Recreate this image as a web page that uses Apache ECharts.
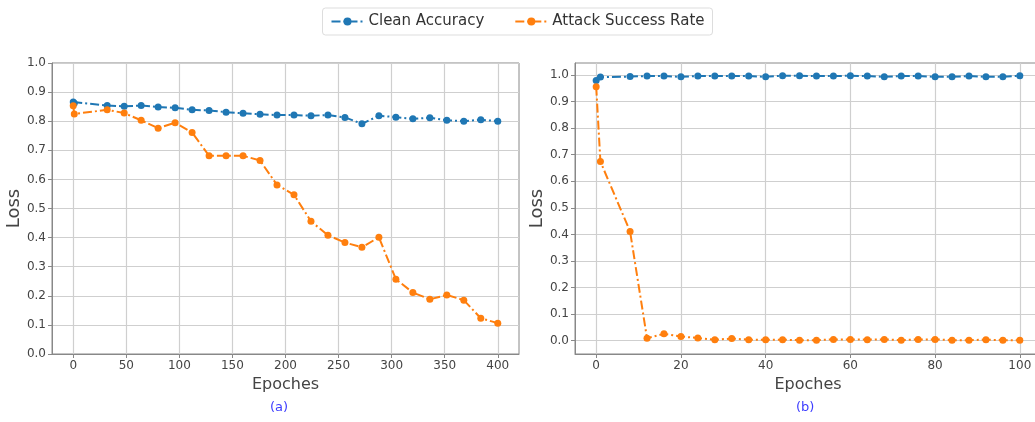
<!DOCTYPE html>
<html>
<head>
<meta charset="utf-8">
<script src="https://cdn.jsdelivr.net/npm/echarts@6/dist/echarts.min.js"></script>
<style>
html,body{margin:0;padding:0;background:#fff;}
#chart{width:1035px;height:422px;}
</style>
</head>
<body>
<div id="chart"></div>
<script>
// ---- data ----
const seriesNames = ['Clean Accuracy', 'Attack Success Rate'];

const epochsA = [0, 1, 32, 48, 64, 80, 96, 112, 128, 144, 160, 176, 192, 208, 224, 240, 256, 272, 288, 304, 320, 336, 352, 368, 384, 400];
const cleanA = [0.866, 0.862, 0.854, 0.851, 0.854, 0.849, 0.846, 0.839, 0.837, 0.831, 0.827, 0.824, 0.821, 0.821, 0.819, 0.821, 0.813, 0.791, 0.819, 0.814, 0.808, 0.812, 0.803, 0.800, 0.805, 0.800];
const attackA = [0.853, 0.825, 0.839, 0.828, 0.803, 0.776, 0.795, 0.761, 0.681, 0.681, 0.681, 0.665, 0.581, 0.547, 0.456, 0.408, 0.383, 0.367, 0.401, 0.257, 0.211, 0.188, 0.203, 0.185, 0.123, 0.106];

const epochsB = [0, 1, 8, 12, 16, 20, 24, 28, 32, 36, 40, 44, 48, 52, 56, 60, 64, 68, 72, 76, 80, 84, 88, 92, 96, 100];
const cleanB = [0.979, 0.992, 0.994, 0.996, 0.996, 0.993, 0.996, 0.996, 0.996, 0.996, 0.993, 0.997, 0.997, 0.996, 0.996, 0.997, 0.996, 0.993, 0.996, 0.996, 0.993, 0.993, 0.996, 0.993, 0.993, 0.997];
const attackB = [0.956, 0.674, 0.411, 0.009, 0.026, 0.016, 0.010, 0.004, 0.008, 0.004, 0.004, 0.004, 0.002, 0.002, 0.005, 0.005, 0.004, 0.005, 0.002, 0.005, 0.005, 0.002, 0.002, 0.004, 0.002, 0.002];

const xTicksA = [0, 50, 100, 150, 200, 250, 300, 350, 400];
const xTicksB = [0, 20, 40, 60, 80, 100];
const yTicks = [0, 0.1, 0.2, 0.3, 0.4, 0.5, 0.6, 0.7, 0.8, 0.9, 1.0];
const panelLabels = ['(a)', '(b)'];
const axisTitles = { x: 'Epoches', y: 'Loss' };

// ---- chart ----
const FONT = 'DejaVu Sans';
const BLUE = '#1f77b4', ORANGE = '#ff7f0e';
const dash = [9, 3, 2, 3];
const pairs = (xs, ys) => xs.map((x, i) => [x, ys[i]]);

function xAxis(gi, min, max, ticks) {
  return {
    type: 'value', gridIndex: gi, min: min, max: max,
    name: axisTitles.x, nameLocation: 'middle', nameGap: 19,
    nameTextStyle: { fontFamily: FONT, fontSize: 16, color: '#444' },
    axisLine: { show: true, onZero: false, lineStyle: { color: '#888', width: 1 } },
    axisTick: { show: true, inside: false, length: 4, customValues: ticks, lineStyle: { color: '#888' } },
    axisLabel: { customValues: ticks, margin: 6, fontFamily: FONT, fontSize: 12, color: '#444',
      formatter: v => String(v) },
    splitLine: { show: true, lineStyle: { color: '#cfcfcf', width: 1.2 } }
  };
}
function yAxis(gi, min, max) {
  return {
    type: 'value', gridIndex: gi, min: min, max: max,
    name: axisTitles.y, nameLocation: 'middle', nameGap: 25, nameRotate: 90,
    nameTextStyle: { fontFamily: FONT, fontSize: 18, color: '#444' },
    axisLine: { show: true, onZero: false, lineStyle: { color: '#888', width: 1 } },
    axisTick: { show: true, inside: false, length: 4, customValues: yTicks, lineStyle: { color: '#888' } },
    axisLabel: { customValues: yTicks, margin: 6, fontFamily: FONT, fontSize: 12, color: '#444',
      formatter: v => v.toFixed(1) },
    splitLine: { show: true, lineStyle: { color: '#cfcfcf', width: 1.2 } }
  };
}
function line(name, color, gi, data) {
  return {
    name: name, type: 'line', xAxisIndex: gi, yAxisIndex: gi, data: data,
    symbol: 'circle', symbolSize: 7, showSymbol: true,
    lineStyle: { color: color, width: 2, type: dash },
    itemStyle: { color: color },
    emphasis: { disabled: true }, animation: false, z: 3
  };
}

const chart = echarts.init(document.getElementById('chart'), null, { renderer: 'canvas' });
chart.setOption({
  backgroundColor: '#fff',
  animation: false,
  textStyle: { fontFamily: FONT },
  legend: {
    data: seriesNames, top: 8, left: 'center',
    itemWidth: 32, itemHeight: 10, itemGap: 30,
    padding: [6, 8], borderColor: '#ddd', borderWidth: 1, borderRadius: 3,
    textStyle: { fontFamily: FONT, fontSize: 15, color: '#333' }
  },
  grid: [
    { left: 52, top: 63, width: 467, height: 291, show: true, borderColor: '#888', borderWidth: 1, outerBoundsMode: 'none', containLabel: false },
    { left: 575, top: 63, width: 466, height: 291, show: true, borderColor: '#888', borderWidth: 1, outerBoundsMode: 'none', containLabel: false }
  ],
  xAxis: [ xAxis(0, -20, 420, xTicksA), xAxis(1, -5, 105, xTicksB) ],
  yAxis: [ yAxis(0, 0, 1.0), yAxis(1, -0.05, 1.045) ],
  series: [
    line(seriesNames[0], BLUE, 0, pairs(epochsA, cleanA)),
    line(seriesNames[1], ORANGE, 0, pairs(epochsA, attackA)),
    line(seriesNames[0], BLUE, 1, pairs(epochsB, cleanB)),
    line(seriesNames[1], ORANGE, 1, pairs(epochsB, attackB))
  ],
  graphic: [
    { type: 'text', left: 270, top: 401, style: { text: panelLabels[0], fill: '#3d3dff', font: '13px "DejaVu Sans"' } },
    { type: 'text', left: 796, top: 401, style: { text: panelLabels[1], fill: '#3d3dff', font: '13px "DejaVu Sans"' } }
  ]
});
</script>
</body>
</html>
